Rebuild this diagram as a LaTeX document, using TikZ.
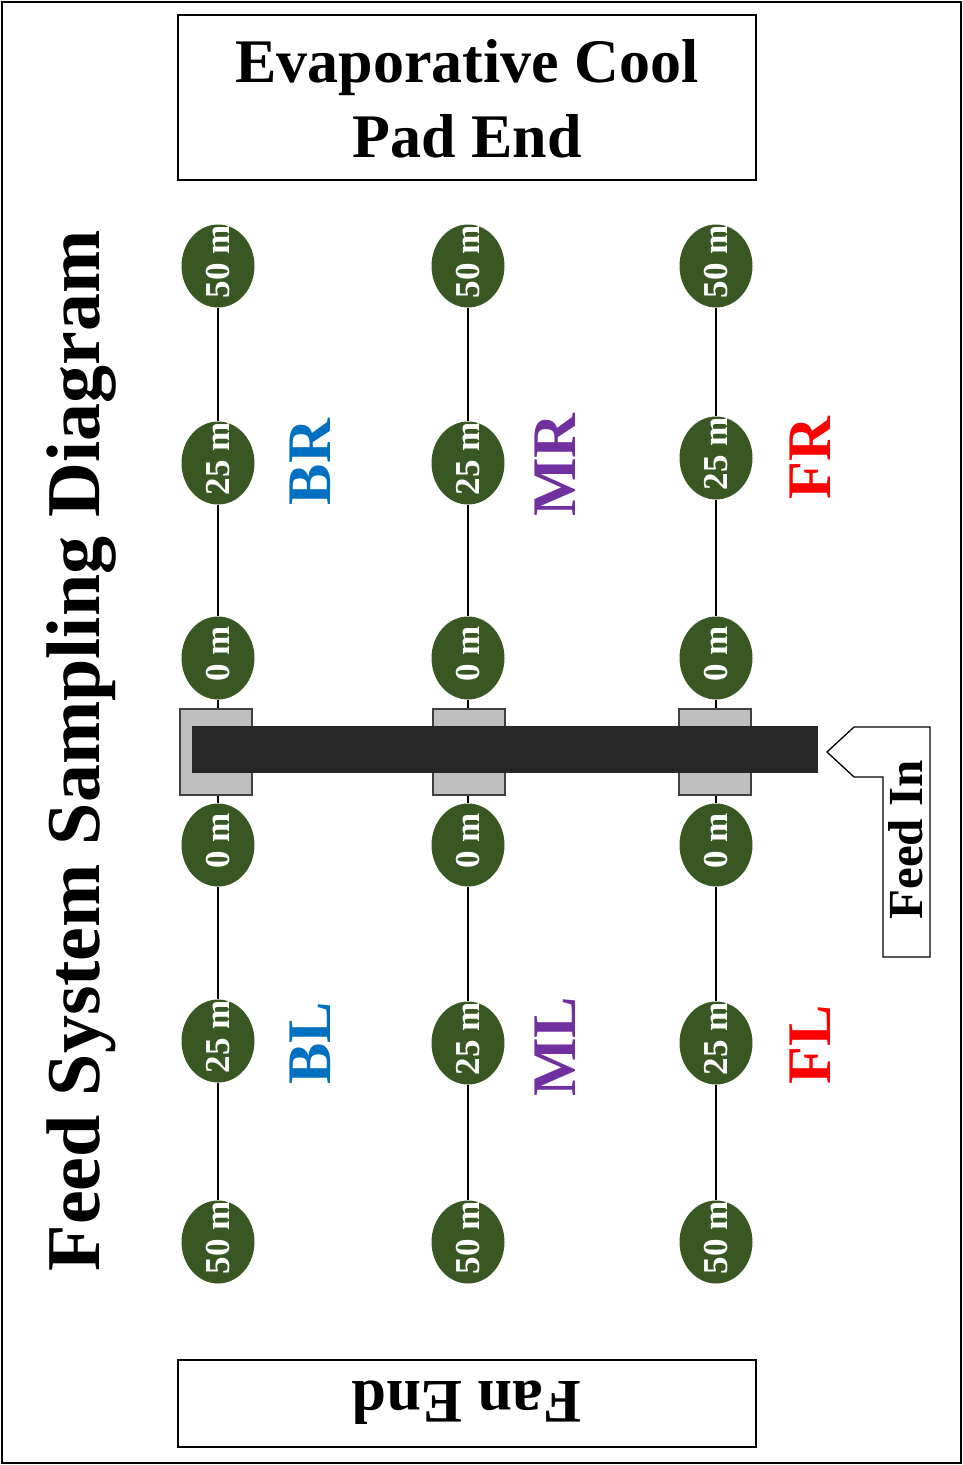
\documentclass[tikz,border=0pt]{standalone}
\usepackage{fontspec}
\setmainfont{Liberation Serif}
\usetikzlibrary{shapes.geometric,backgrounds}
\definecolor{dgreen}{RGB}{56,87,35}
\definecolor{cblue}{RGB}{0,112,192}
\definecolor{cpurple}{RGB}{112,48,160}
\definecolor{cred}{RGB}{255,0,0}
\definecolor{bargray}{RGB}{38,38,38}
\definecolor{lgray}{RGB}{191,191,191}
\tikzset{
  pt/.style={ellipse,fill=dgreen,text=white,minimum width=73pt,minimum height=83pt,inner sep=0pt,font=\fontsize{35}{38}\selectfont\bfseries},
  holder/.style={draw=black!75,line width=1.5pt,fill=lgray,minimum width=72pt,minimum height=86pt,inner sep=0pt},
  zone/.style={font=\fontsize{62}{66}\selectfont\bfseries,inner sep=0pt},
  endbox/.style={draw,line width=1.3pt,inner sep=0pt},
  link/.style={line width=1.2pt}
}
\newcommand{\lab}[1]{\rotatebox{90}{\makebox[0pt]{\hspace{8pt}#1}}}
\begin{document}
\begin{tikzpicture}[x=1pt,y=-1pt]
\useasboundingbox (0,0) rectangle (963,1465);
\draw[line width=2pt] (2,2) rectangle (961,1463);
% end boxes
\node[endbox,minimum width=578pt,minimum height=165pt] (top) at (467,97.5) {};
\node[align=center,font=\fontsize{62}{75}\selectfont\bfseries] (toptxt) at (467,99) {Evaporative Cool\\Pad End};
\node[endbox,minimum width=578pt,minimum height=87pt] (bot) at (467,1403.5) {};
\node[rotate=180,font=\fontsize{62}{66}\selectfont\bfseries] (bottxt) at (467,1403) {Fan End};
% title
\node[rotate=90,font=\fontsize{76}{80}\selectfont\bfseries,inner sep=0pt] (title) at (82,751) {Feed System Sampling Diagram};
% holders
\node[holder] (g1) at (216,752) {};
\node[holder] (g2) at (469,752) {};
\node[holder] (g3) at (715,752) {};
% bar
\node[fill=bargray,minimum width=626pt,minimum height=47pt,inner sep=0pt] (bar) at (505,749.5) {};
% points
\foreach \c/\x in {1/218,2/468,3/716}{
  \node[pt] (p\c a) at (\x,266) {\lab{50 m}};
  \node[pt] (p\c c) at (\x,658) {\lab{0 m}};
  \node[pt] (p\c d) at (\x,845) {\lab{0 m}};
  \node[pt] (p\c f) at (\x,1242) {\lab{50 m}};
}
\node[pt] (p1b) at (218,463) {\lab{25 m}};
\node[pt] (p2b) at (468,463) {\lab{25 m}};
\node[pt] (p3b) at (716,458) {\lab{25 m}};
\node[pt] (p1e) at (218,1041) {\lab{25 m}};
\node[pt] (p2e) at (468,1043) {\lab{25 m}};
\node[pt] (p3e) at (716,1043) {\lab{25 m}};
\begin{scope}[on background layer]
\foreach \c in {1,2,3}{
  \draw[link] (p\c a) -- (p\c b) -- (p\c c) -- (p\c d) -- (p\c e) -- (p\c f);
}
\end{scope}
% zone labels
\node[zone,text=cblue,rotate=90] (BR) at (310,462) {BR};
\node[zone,text=cpurple,rotate=90] (MR) at (555,465) {MR};
\node[zone,text=cred,rotate=90] (FR) at (810,458) {FR};
\node[zone,text=cblue,rotate=90] (BL) at (310,1043) {BL};
\node[zone,text=cpurple,rotate=90] (ML) at (555,1047) {ML};
\node[zone,text=cred,rotate=90] (FL) at (810,1045) {FL};
% feed in arrow
\draw[line width=1.3pt,line join=miter] (827,752) -- (854,727) -- (930,727) -- (930,957) -- (883,957) -- (883,777) -- (854,777) -- cycle;
\node[rotate=90,font=\fontsize{49}{52}\selectfont\bfseries,inner sep=0pt] (feed) at (906,840) {Feed In};
\end{tikzpicture}
\end{document}
